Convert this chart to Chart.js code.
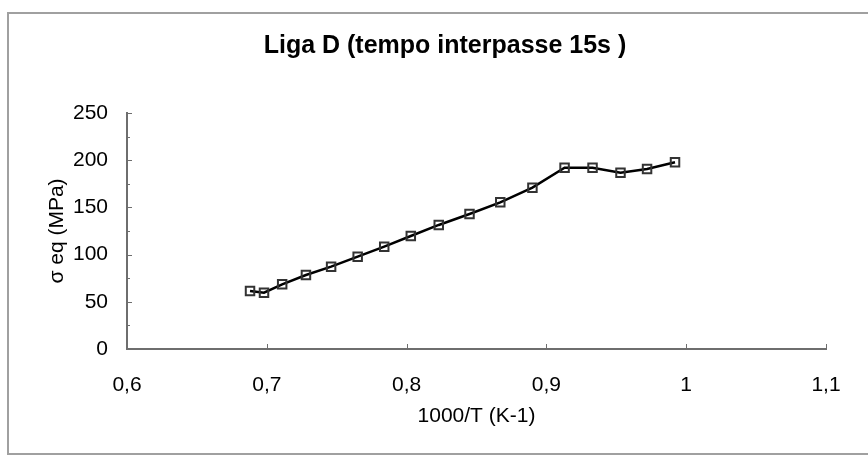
<!DOCTYPE html>
<html>
<head>
<meta charset="utf-8">
<script src="https://cdn.jsdelivr.net/npm/chart.js@4"></script>
<style>
  body { margin: 0; background: #fff; }
  canvas { display: block; }
</style>
</head>
<body>
<canvas id="ligaChart" width="868" height="461"></canvas>
<script>
// valores (1000/T em K-1, tensão equivalente em MPa)
const invTemp = [0.688, 0.698, 0.711, 0.728, 0.746, 0.765, 0.784, 0.803, 0.823, 0.845, 0.867, 0.890, 0.913, 0.933, 0.953, 0.972, 0.992];
const sigmaEq = [61.4, 59.6, 68.5, 78.4, 87.2, 97.8, 108.4, 119.7, 131.4, 143, 155.4, 170.9, 192, 192, 186.8, 190.7, 197.8];

const chartTitle = "Liga D (tempo interpasse 15s )";
const xTitle = "1000/T (K-1)";
const yTitle = "σ eq (MPa)";
const xRange = [0.6, 1.1, 0.1];
const yRange = [0, 250, 50];

const fontFamily = "'Liberation Sans', Arial, sans-serif";
const axisGray = "#6e6e6e";

// moldura cinza e marcas internas dos eixos (estilo Excel)
const excelFrame = {
  id: "excelFrame",
  beforeDraw(chart) {
    const ctx = chart.ctx;
    ctx.save();
    ctx.fillStyle = "#fff";
    ctx.fillRect(0, 0, chart.width, chart.height);
    ctx.strokeStyle = "#a0a0a0";
    ctx.lineWidth = 2;
    ctx.beginPath();
    ctx.moveTo(chart.width, 13);
    ctx.lineTo(8, 13);
    ctx.lineTo(8, 454);
    ctx.lineTo(chart.width, 454);
    ctx.stroke();
    ctx.restore();
  },
  afterDatasetsDraw(chart) {
    const ctx = chart.ctx;
    const x = chart.scales.x;
    const y = chart.scales.y;
    ctx.save();
    ctx.strokeStyle = axisGray;
    ctx.lineWidth = 1;
    ctx.beginPath();
    for (let v = yRange[0]; v <= yRange[1]; v += yRange[2] / 2) {
      const py = Math.round(y.getPixelForValue(v)) + 0.5;
      const len = v % yRange[2] === 0 ? 5 : 3;
      ctx.moveTo(x.left, py);
      ctx.lineTo(x.left + len, py);
    }
    for (let i = 1; i <= 5; i++) {
      const px = Math.round(x.getPixelForValue(xRange[0] + i * xRange[2])) + 0.5;
      ctx.moveTo(px, y.bottom);
      ctx.lineTo(px, y.bottom - 5);
    }
    ctx.stroke();
    ctx.restore();
  },
};

const points = invTemp.map((v, i) => ({ x: v, y: sigmaEq[i] }));

const ctx = document.getElementById("ligaChart").getContext("2d");
new Chart(ctx, {
  type: "scatter",
  data: {
    datasets: [
      {
        data: points,
        showLine: true,
        borderColor: "#000",
        borderWidth: 2.5,
        tension: 0,
        pointStyle: "rect",
        pointRadius: 6,
        pointBorderWidth: 2,
        pointBorderColor: "#333",
        pointBackgroundColor: "rgba(255,255,255,0)",
      },
    ],
  },
  options: {
    responsive: false,
    animation: false,
    devicePixelRatio: 1,
    layout: { padding: { left: 64, right: 42, top: 0, bottom: 0 } },
    plugins: {
      legend: { display: false },
      tooltip: { enabled: false },
      title: {
        display: true,
        text: chartTitle,
        color: "#000",
        font: { family: fontFamily, size: 25, weight: "bold" },
        padding: { top: 31, bottom: 52 },
      },
    },
    scales: {
      x: {
        type: "linear",
        min: xRange[0],
        max: xRange[1],
        afterFit: function (scale) {
          scale.height = 112;
        },
        ticks: {
          stepSize: xRange[2],
          color: "#000",
          padding: 24,
          font: { family: fontFamily, size: 21 },
          callback: function (value) {
            return String(Math.round(value * 10) / 10).replace(".", ",");
          },
        },
        grid: { drawOnChartArea: false, drawTicks: false },
        border: { display: true, color: axisGray, width: 2 },
        title: {
          display: true,
          text: xTitle,
          color: "#000",
          font: { family: fontFamily, size: 21 },
          padding: { top: 0, bottom: 32 },
        },
      },
      y: {
        min: yRange[0],
        max: yRange[1],
        afterFit: function (scale) {
          scale.width = 63;
        },
        ticks: {
          stepSize: yRange[2],
          color: "#000",
          padding: 19,
          font: { family: fontFamily, size: 21 },
        },
        grid: { drawOnChartArea: false, drawTicks: false },
        border: { display: true, color: axisGray, width: 2 },
        title: {
          display: true,
          text: yTitle,
          color: "#000",
          font: { family: fontFamily, size: 21 },
          padding: { top: -19, bottom: 0 },
        },
      },
    },
  },
  plugins: [excelFrame],
});
</script>
</body>
</html>
